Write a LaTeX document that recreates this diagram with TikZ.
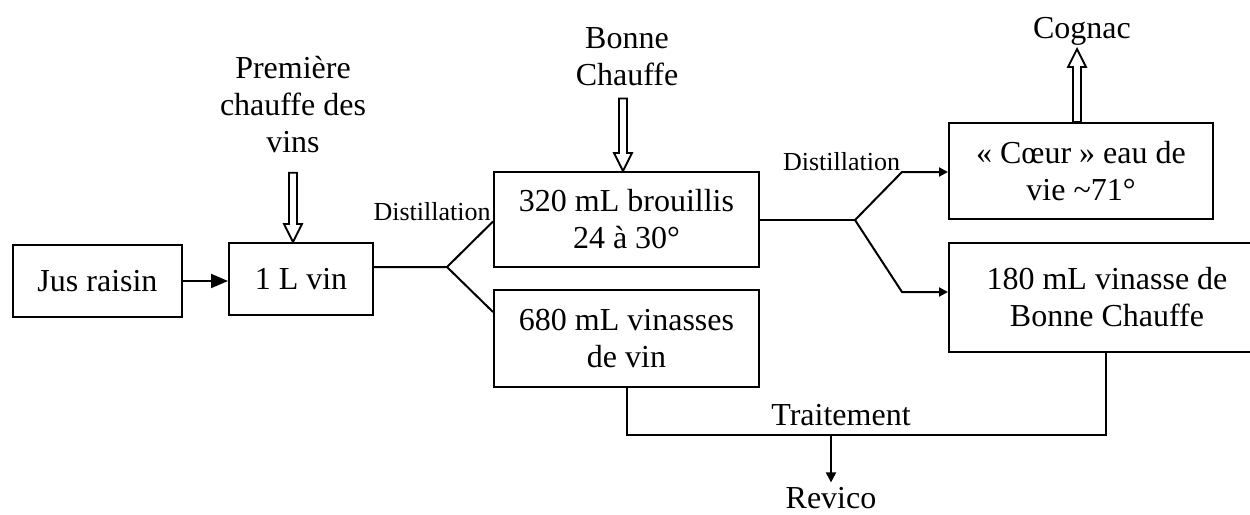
\documentclass[tikz,border=0pt]{standalone}
\usepackage{fontspec}
\setmainfont{Liberation Serif}
\usetikzlibrary{arrows.meta,calc}
\newcommand{\hollowarrow}[2]{%
  \draw[line width=0.9pt,fill=white,line join=miter]
    let \p1=(#1),\p2=(#2),\n1={sign(\y2-\y1)} in
    ({\x1-2pt},\y1) -- ({\x1-2pt},{\y2-(\n1)*9pt}) -- ({\x1-4.5pt},{\y2-(\n1)*9pt})
    -- (\x1,\y2) -- ({\x1+4.5pt},{\y2-(\n1)*9pt}) -- ({\x1+2pt},{\y2-(\n1)*9pt})
    -- ({\x1+2pt},\y1) -- cycle;}
\begin{document}
\begin{tikzpicture}[x=0.5pt,y=-0.5pt,
  every node/.style={font=\fontsize{16}{18.5}\selectfont},
  boxnode/.style={draw,line width=1pt,inner sep=0pt,align=center},
  lbl/.style={inner sep=0pt,align=center},
  small/.style={inner sep=0pt,font=\fontsize{13}{15}\selectfont},
  conn/.style={line width=1pt},
  tipA/.style={line width=1pt,-{Triangle[length=8.5pt,width=7pt]}},
  tipB/.style={line width=1pt,-{Triangle[length=4.5pt,width=4.5pt]}},
  tipC/.style={line width=1pt,-{Triangle[length=5pt,width=5pt]}}]
\useasboundingbox (0,0) rectangle (1250,515);
\clip (0,0) rectangle (1250,515);
% boxes
\node[boxnode,minimum width=84.5pt,minimum height=36pt] (jus) at (97.5,281) {Jus raisin};
\node[boxnode,minimum width=72pt,minimum height=36pt] (vin) at (301,279) {1 L vin};
\node[boxnode,minimum width=132.5pt,minimum height=47.5pt] (brou) at (626.5,219.5) {320 mL brouillis\\24 à 30°};
\node[boxnode,minimum width=132.5pt,minimum height=48.5pt] (vinas) at (626.5,338.5) {680 mL vinasses\\de vin};
\node[boxnode,minimum width=132pt,minimum height=48pt] (coeur) at (1081,171) {« Cœur » eau de\\vie \textasciitilde71°};
\node[boxnode,minimum width=158pt,minimum height=54.5pt] (bc) at (1107,297.5) {180 mL vinasse de\\Bonne Chauffe};
% labels
\node[lbl] (prem) at (293,105) {Première\\chauffe des\\vins};
\node[lbl] (bonne) at (627,57) {Bonne\\Chauffe};
\node[lbl,anchor=base] (cognac) at (1082,38) {Cognac};
\node[small,anchor=base] (dist1) at (432,220) {Distillation};
\node[small,anchor=base] (dist2) at (841.5,170) {Distillation};
\node[lbl,anchor=base] (trait) at (841,425) {Traitement};
\node[lbl,anchor=base,inner sep=2pt] (revico) at (831,508) {Revico};
% hollow arrows
\hollowarrow{$(prem.south)+(0,19)$}{prem.south |- vin.north}
\hollowarrow{$(bonne.south)+(-4,12)$}{$(bonne.south |- brou.north)+(-4,0)$}
\hollowarrow{$(coeur.north)+(-4,0)$}{$(coeur.north)+(-4,-73)$}
% connectors
\draw[tipA] (jus.east) -- (jus.east -| vin.west);
\coordinate (j1) at (447,267);
\draw[conn,line join=miter] (vin.east |- j1) -- (j1) -- ($(brou.west)+(0,2)$);
\draw[conn,line join=miter] (j1) -- ($(vinas.north west)+(0,23)$);
\coordinate (j2) at (855,220);
\draw[conn] (brou.east |- j2) -- (j2);
\draw[tipB,line join=miter] (j2) -- ++(47,-48) coordinate (b1) -- (b1 -| coeur.west);
\draw[tipB,line join=miter] (j2) -- ++(47,72) coordinate (b2) -- (b2 -| bc.west);
\coordinate (t) at (831,435);
\draw[conn] (vinas.south) -- (vinas.south |- t) -- ($(bc.south |- t)+(-1,0)$) -- ($(bc.south)+(-1,0)$);
\draw[tipC] (t) -- (revico.north);
\end{tikzpicture}
\end{document}
